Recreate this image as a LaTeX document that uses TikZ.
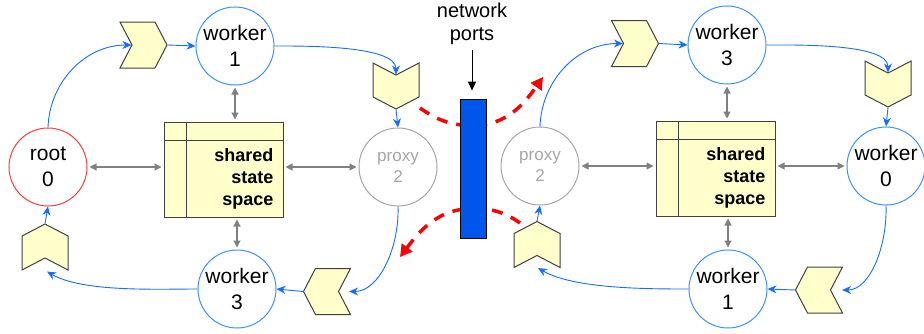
\documentclass[tikz,border=0pt]{standalone}
\usepackage{fontspec}
\setmainfont{Liberation Sans}
\usetikzlibrary{arrows.meta,backgrounds,calc,shapes.symbols}

\definecolor{ringblue}{RGB}{60,145,255}
\definecolor{flowblue}{RGB}{20,110,255}
\definecolor{rootred}{RGB}{255,60,60}
\definecolor{proxygray}{RGB}{165,165,165}
\definecolor{linkgray}{RGB}{128,128,128}
\definecolor{pale}{RGB}{255,255,204}
\definecolor{edgegray}{RGB}{64,64,64}
\definecolor{portblue}{RGB}{0,85,235}

\tikzset{
  pe/.style={circle,draw=ringblue,line width=1pt,minimum size=78pt,inner sep=0pt,
    align=center,font=\fontsize{21}{26}\selectfont},
  rootpe/.style={pe,draw=rootred},
  proxype/.style={pe,draw=proxygray,text=proxygray,font=\fontsize{17}{21}\selectfont},
  msg/.style={signal,signal pointer angle=125,draw=edgegray,fill=pale,line width=1pt,
    inner sep=0pt},
  msgE/.style={msg,signal to=east,signal from=west,minimum width=47pt,minimum height=46pt},
  msgW/.style={msg,signal to=west,signal from=east,minimum width=47pt,minimum height=46pt},
  msgS/.style={msg,signal to=south,signal from=north,minimum width=46pt,minimum height=22pt},
  msgN/.style={msg,signal to=north,signal from=south,minimum width=46pt,minimum height=22pt},
  store/.style={rectangle,draw=edgegray,fill=pale,line width=1pt,
    minimum width=119pt,minimum height=95pt,inner sep=0pt},
  storetext/.style={anchor=north east,inner sep=0pt,align=right,
    font=\fontsize{18}{22}\selectfont\bfseries},
  port/.style={rectangle,draw=black,fill=portblue,line width=0.8pt,
    minimum width=26pt,minimum height=139pt,inner sep=0pt},
  flow/.style={draw=flowblue,line width=0.9pt,-{Stealth[length=9pt,width=8pt]}},
  share/.style={draw=linkgray,line width=1.2pt,shorten <=2pt,shorten >=2pt,
    {Triangle[length=7pt,width=7pt]}-{Triangle[length=7pt,width=7pt]}},
  hop/.style={draw=red,line width=3.5pt,dash pattern=on 11pt off 9pt,
    -{Triangle[length=12pt,width=13pt]}},
}

\begin{document}
\begin{tikzpicture}[x=1pt,y=1pt]
\useasboundingbox (0,0) rectangle (924,333);

% left machine
\node[rootpe] (root) at (48,166) {root\\0};
\node[pe] (w1L) at (235,287) {worker\\1};
\node[pe] (w3L) at (237,44) {worker\\3};
\node[proxype] (prL) at (398,166) {proxy\\2};
\node[store] (ssL) at (223.5,163.5) {};
\draw[edgegray,line width=1pt] ($(ssL.north west)+(0,-19)$) -- ($(ssL.north east)+(0,-19)$)
  ($(ssL.north west)+(23,0)$) -- ($(ssL.south west)+(23,0)$);
\node[storetext] (ssLtext) at ($(ssL.north east)+(-10,-27)$) {shared\\state\\space};
\node[msgE] (cA) at (143.5,288) {};
\node[msgS] (cB) at (396,247) {};
\node[msgW] (cC) at (327,41.5) {};
\node[msgN] (cD) at (45,86) {};
\coordinate (intoD) at ($(cD.south)+(2,-13)$);

% right machine
\node[proxype] (prR) at (540,167) {proxy\\2};
\node[pe] (w3R) at (727,288) {worker\\3};
\node[pe] (w0R) at (886,167) {worker\\0};
\node[pe] (w1R) at (728,44) {worker\\1};
\node[store] (ssR) at (715.5,164.5) {};
\draw[edgegray,line width=1pt] ($(ssR.north west)+(0,-19)$) -- ($(ssR.north east)+(0,-19)$)
  ($(ssR.north west)+(23,0)$) -- ($(ssR.south west)+(23,0)$);
\node[storetext] (ssRtext) at ($(ssR.north east)+(-10,-27)$) {shared\\state\\space};
\node[msgE] (cE) at (635,289.5) {};
\node[msgS] (cF) at (888,249) {};
\node[msgW] (cG) at (819,43) {};
\node[msgN] (cH) at (537,88.5) {};
\coordinate (intoH) at ($(cH.south)+(1,-12)$);

% network ports
\node[port] (bar) at (473,164.5) {};
\node[inner sep=0pt,align=center,font=\fontsize{20}{23}\selectfont] (ports) at (472,309) {network\\ports};
\draw[line width=1pt,shorten <=5pt,shorten >=8pt,-{Triangle[length=9pt,width=8pt]}]
  (ports.south) -- (ports.south |- bar.north);

\begin{scope}[on background layer]
\coordinate (upL) at (420,225);
\coordinate (upR) at (543,256);
\coordinate (loR) at (520,110);
\coordinate (loL) at (400,76);
\draw[hop] (upL) to[out=-35,in=180] ($(bar.center)+(0,43)$) to[out=0,in=235] (upR);
\draw[hop] (loR) to[out=145,in=0] ($(bar.center)+(0,-40)$) to[out=180,in=53] (loL);
\end{scope}

% ring on the left
\draw[flow] (root.north) to[out=88,in=180] (cA.west);
\draw[flow] (cA.east) -- (w1L.west);
\draw[flow] (w1L.east) to[out=0,in=90,looseness=0.6] (cB.north);
\draw[flow] (cB.south) -- (prL.north);
\draw[flow,shorten >=10pt] (prL.south) to[out=-88,in=0] (cC.east);
\draw[flow] (cC.west) -- (w3L.east);
\draw[flow] (w3L.west) to[out=180,in=-30,looseness=0.7] (intoD);
\draw[flow] (cD.north) -- (root.south);

% ring on the right
\draw[flow] (prR.north) to[out=88,in=180] (cE.west);
\draw[flow] (cE.east) -- (w3R.west);
\draw[flow] (w3R.east) to[out=0,in=90,looseness=0.6] (cF.north);
\draw[flow] (cF.south) -- (w0R.north);
\draw[flow,shorten >=11pt] (w0R.south) to[out=-88,in=0] (cG.east);
\draw[flow] (cG.west) -- (w1R.east);
\draw[flow] (w1R.west) to[out=180,in=-30,looseness=0.7] (intoH);
\draw[flow] (cH.north) -- (prR.south);

% shared state access
\draw[share] (w1L.south) -- (w1L.south |- ssL.north);
\draw[share] (w3L.north) -- (w3L.north |- ssL.south);
\draw[share] (root.east) -- (root.east -| ssL.west);
\draw[share] (prL.west -| ssL.east) -- (prL.west);
\draw[share] (w3R.south) -- (w3R.south |- ssR.north);
\draw[share] (w1R.north) -- (w1R.north |- ssR.south);
\draw[share] (prR.east) -- (prR.east -| ssR.west);
\draw[share] (w0R.west -| ssR.east) -- (w0R.west);
\end{tikzpicture}
\end{document}
